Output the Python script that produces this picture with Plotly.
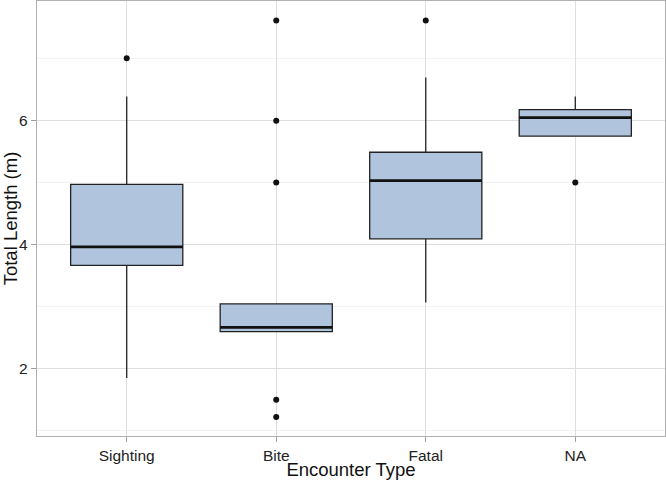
import plotly.graph_objects as go

categories = ["Sighting", "Bite", "Fatal", "NA"]
q1 = [3.66, 2.59, 4.09, 5.75]
median = [3.96, 2.66, 5.03, 6.05]
q3 = [4.97, 3.04, 5.49, 6.18]
lower_whisker = [1.84, 2.59, 3.06, 5.75]
upper_whisker = [6.39, 3.04, 6.70, 6.39]
outlier_cat = ["Sighting", "Bite", "Bite", "Bite", "Bite", "Bite", "Fatal", "NA"]
outlier_val = [7.01, 7.62, 6.0, 5.0, 1.49, 1.21, 7.62, 5.0]

pos = list(range(len(categories)))
idx = {c: i for i, c in enumerate(categories)}
box_w = 0.75

fig = go.Figure()
fig.add_trace(go.Box(
    x=pos, q1=q1, median=median, q3=q3,
    lowerfence=lower_whisker, upperfence=upper_whisker,
    width=box_w, whiskerwidth=0, boxpoints=False,
    fillcolor="#B0C4DE", line=dict(color="#222222", width=1.3),
    showlegend=False, hoverinfo="skip",
))

# thicker median lines (ggplot fatten)
mx, my = [], []
for i, m in enumerate(median):
    mx += [pos[i] - box_w / 2, pos[i] + box_w / 2, None]
    my += [m, m, None]
fig.add_trace(go.Scatter(x=mx, y=my, mode="lines",
                         line=dict(color="#111111", width=2.8),
                         showlegend=False, hoverinfo="skip"))

fig.add_trace(go.Scatter(
    x=[idx[c] for c in outlier_cat], y=outlier_val, mode="markers",
    marker=dict(color="#111111", size=6),
    showlegend=False, hoverinfo="skip"))

font = "Liberation Sans, Arial, Helvetica, sans-serif"
fig.update_layout(
    width=666, height=480,
    margin=dict(l=37, r=1, t=1, b=44, autoexpand=False),
    paper_bgcolor="white", plot_bgcolor="white",
    font=dict(family=font, color="#1a1a1a"),
    xaxis=dict(
        range=[-0.6, 3.6], tickvals=pos, ticktext=categories,
        automargin=False,
        showgrid=True, gridcolor="#dedede", gridwidth=1,
        zeroline=False, showline=True, mirror=True,
        linecolor="#b0b0b0", linewidth=1.2,
        ticks="outside", ticklen=5, tickcolor="#a0a0a0",
        tickfont=dict(size=15.5, color="#222222"),
        title=dict(text="Encounter Type", font=dict(size=18.5, color="#111111"), standoff=0),
    ),
    yaxis=dict(
        range=[0.903, 7.935], tickvals=[2, 4, 6],
        automargin=False,
        showgrid=True, gridcolor="#dedede", gridwidth=1,
        minor=dict(tickvals=[1, 3, 5, 7], showgrid=True, gridcolor="#f3f3f3", gridwidth=1),
        zeroline=False, showline=True, mirror=True,
        linecolor="#b0b0b0", linewidth=1.2,
        ticks="outside", ticklen=5, tickcolor="#a0a0a0",
        tickfont=dict(size=15.5, color="#222222"),
        title=dict(text="Total Length (m)", font=dict(size=18.5, color="#111111"), standoff=1),
    ),
)

fig.write_html(
    "out.html",
    config={"displayModeBar": False, "staticPlot": True},
    post_script="document.body.style.margin='0';document.body.style.overflow='hidden';",
)
